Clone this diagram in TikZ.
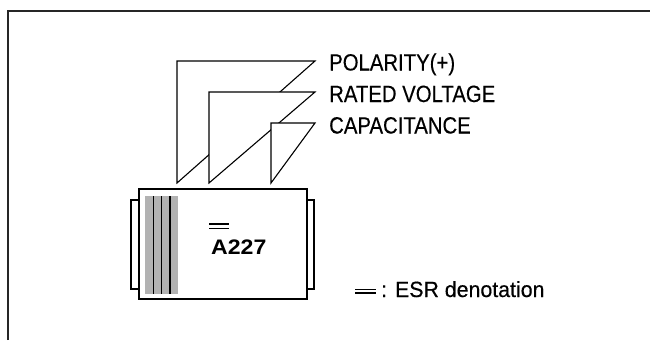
\documentclass[tikz,border=0pt]{standalone}
\usepackage{fontspec}
\setmainfont{Liberation Sans}
\newfontfamily\lblfont[FakeStretch=0.865,FakeBold=0.4]{Liberation Sans}
\newfontfamily\esrfont[FakeStretch=0.97,FakeBold=0.4]{Liberation Sans}
\newfontfamily\codefont[FakeStretch=1.1]{Liberation Sans}
\begin{document}
\begin{tikzpicture}[x=1pt,y=-1pt,
  outline/.style={draw=black,line width=1.1pt,line join=miter},
  tri/.style={outline,fill=white},
  lbl/.style={anchor=base west,inner sep=0pt,font=\lblfont\fontsize{23.5}{27}\selectfont},
  esrtxt/.style={anchor=base west,inner sep=0pt,font=\esrfont\fontsize{22}{25}\selectfont},
  esrbar/.style={draw=black,line width=1.1pt}]
\useasboundingbox (0,0) rectangle (650,340);
\draw[draw=black!85,line width=1.2pt] (8,340) -- (8,11) -- (650,11);
% markings pointers
\coordinate (p1) at (315,61);
\coordinate (p2) at (315,92);
\coordinate (p3) at (315,123);
\draw[tri] (177,183) -- (177,61) -- (p1) -- cycle;
\draw[tri] (209,183) -- (209,92) -- (p2) -- cycle;
\draw[tri] (271,183) -- (271,123) -- (p3) -- cycle;
\node[lbl] (pol) at (329,70.5) {POLARITY(+)};
\node[lbl] (rv) at (329,102) {RATED VOLTAGE};
\node[lbl] (cap) at (329,133.5) {CAPACITANCE};
% body
\draw[outline,fill=white] (131,200) rectangle (139,289);
\draw[outline,fill=white] (307,200) rectangle (314,289);
\draw[outline,fill=white] (139,189) rectangle (307,299);
\fill[black!30] (145,196) rectangle (178,294);
\foreach \x in {153.5,161.7,170}{\draw[line width=1.5pt] (\x,196) -- (\x,294);}
\draw[esrbar] (209,224) -- (229,224);
\draw[esrbar] (209,228.5) -- (229,228.5);
\node[anchor=base west,inner sep=0pt,font=\codefont\bfseries\fontsize{21}{24}\selectfont] (code) at (211,254.5) {A227};
\draw[esrbar] (355,289.5) -- (376,289.5);
\draw[esrbar] (355,293) -- (376,293);
\node[esrtxt] (esr) at (381,297) {: ESR denotation};
\end{tikzpicture}
\end{document}
